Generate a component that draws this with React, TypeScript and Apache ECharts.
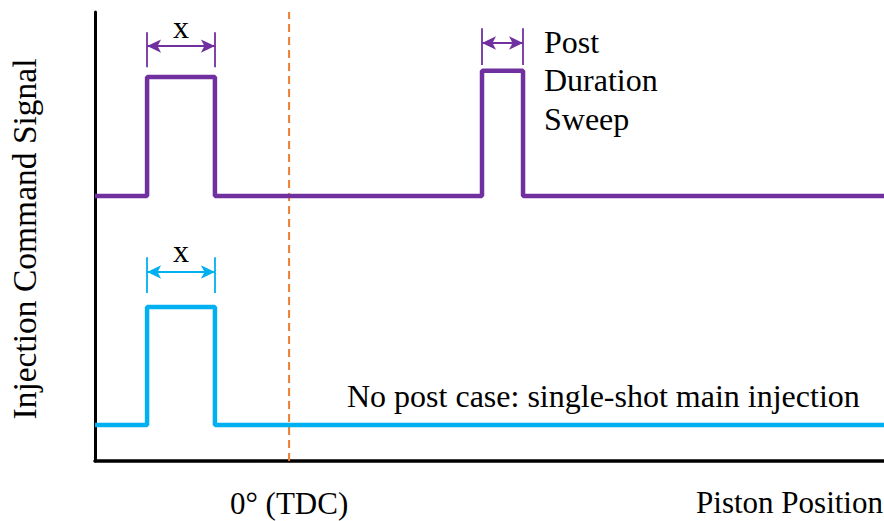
import React, { useEffect, useRef } from "react";
import * as echarts from "echarts";

// Piston position (arbitrary units 0..100) and command signal level (0..100)
const tdc = 24.6;
const mainStart = 6.6;
const mainEnd = 15.2;
const postStart = 49.05;
const postEnd = 54.25;

const purpleBase = 59;
const purpleMainTop = 85.5;
const purplePostTop = 86.9;
const blueBase = 8;
const blueTop = 34.3;

const purpleSignal: [number, number][] = [
  [0, purpleBase],
  [mainStart, purpleBase],
  [mainStart, purpleMainTop],
  [mainEnd, purpleMainTop],
  [mainEnd, purpleBase],
  [postStart, purpleBase],
  [postStart, purplePostTop],
  [postEnd, purplePostTop],
  [postEnd, purpleBase],
  [100, purpleBase],
];

const blueSignal: [number, number][] = [
  [0, blueBase],
  [mainStart, blueBase],
  [mainStart, blueTop],
  [mainEnd, blueTop],
  [mainEnd, blueBase],
  [100, blueBase],
];

const tdcLine: [number, number][] = [
  [tdc, 0],
  [tdc, 100],
];

// dimension arrows: [xFrom, xTo, yArrow, yTickLow, yTickHigh]
const purpleMainArrow = [mainStart, mainEnd, 92.4, 87.7, 95.5];
const purplePostArrow = [postStart, postEnd, 93.1, 88.2, 96.4];
const blueMainArrow = [mainStart, mainEnd, 42.1, 37.4, 45.4];

const xAxisLabels = ["0° (TDC)"];

const PURPLE = "#7030a0";
const BLUE = "#00b0f0";
const ORANGE = "#ed7d31";
const FONT = "Liberation Serif";
const FS = 32;

function dimLines(a: number[]) {
  const [x0, x1, ya, yl, yh] = a;
  return [
    [
      { coord: [x0, ya], symbol: "arrow", symbolSize: [10, 14] },
      { coord: [x1, ya], symbol: "arrow", symbolSize: [10, 14] },
    ],
    [
      { coord: [x0, yl], symbol: "none" },
      { coord: [x0, yh], symbol: "none" },
    ],
    [
      { coord: [x1, yl], symbol: "none" },
      { coord: [x1, yh], symbol: "none" },
    ],
  ];
}

function txt(text: string, x: number, y: number, align: string, extra: any = {}, fs: number = FS) {
  return {
    type: "text",
    x,
    y,
    ...extra,
    style: {
      text,
      fontFamily: FONT,
      fontSize: fs,
      lineHeight: fs - 4,
      fill: "#000",
      textAlign: align,
      textVerticalAlign: "middle",
    },
  };
}

export default function App() {
  const ref = useRef<HTMLDivElement>(null);
  useEffect(() => {
    if (!ref.current) return;
    const chart = echarts.init(ref.current, null, { renderer: "svg" });
    chart.setOption({
      animation: false,
      backgroundColor: "#ffffff",
      grid: { left: 95, right: 0, top: 12, bottom: 60 },
      xAxis: {
        type: "value",
        min: 0,
        max: 100,
        splitLine: { show: false },
        axisTick: { show: false },
        axisLine: { show: true, lineStyle: { color: "#000", width: 3.5 } },
        axisLabel: {
          customValues: [tdc],
          formatter: () => xAxisLabels[0],
          fontFamily: FONT,
          fontSize: 31,
          lineHeight: 26,
          color: "#000",
          margin: 29,
        },
      },
      yAxis: {
        type: "value",
        min: 0,
        max: 100,
        splitLine: { show: false },
        axisTick: { show: false },
        axisLabel: { show: false },
        axisLine: { show: true, lineStyle: { color: "#000", width: 3 } },
      },
      series: [
        {
          type: "line",
          data: tdcLine,
          symbol: "none",
          silent: true,
          lineStyle: { color: ORANGE, width: 2, type: [8, 5] },
          z: 1,
        },
        {
          type: "line",
          data: purpleSignal,
          symbol: "none",
          lineStyle: { color: PURPLE, width: 4.5 },
          z: 3,
          markLine: {
            silent: true,
            label: { show: false },
            lineStyle: { color: PURPLE, width: 1.8, type: "solid" },
            data: [...dimLines(purpleMainArrow), ...dimLines(purplePostArrow)],
          },
        },
        {
          type: "line",
          data: blueSignal,
          symbol: "none",
          lineStyle: { color: BLUE, width: 4.5 },
          z: 3,
          markLine: {
            silent: true,
            label: { show: false },
            lineStyle: { color: BLUE, width: 1.8, type: "solid" },
            data: dimLines(blueMainArrow),
          },
        },
      ],
      graphic: [
        txt("x", 181, 27, "center"),
        txt("x", 181, 251, "center"),
        txt("Post", 544, 42, "left"),
        txt("Duration", 544, 80, "left"),
        txt("Sweep", 544, 119, "left"),
        txt("No post case: single-shot main injection", 347, 396, "left"),
        txt("Piston Position", 883, 502, "right", {}, 31),
        txt("Injection Command Signal", 24, 239, "center", { rotation: Math.PI / 2 }, 33.5),
      ],
    });
    return () => chart.dispose();
  }, []);
  return (
    <div
      ref={ref}
      style={{ position: "fixed", left: 0, top: 0, width: 884, height: 521, background: "#fff" }}
    />
  );
}
